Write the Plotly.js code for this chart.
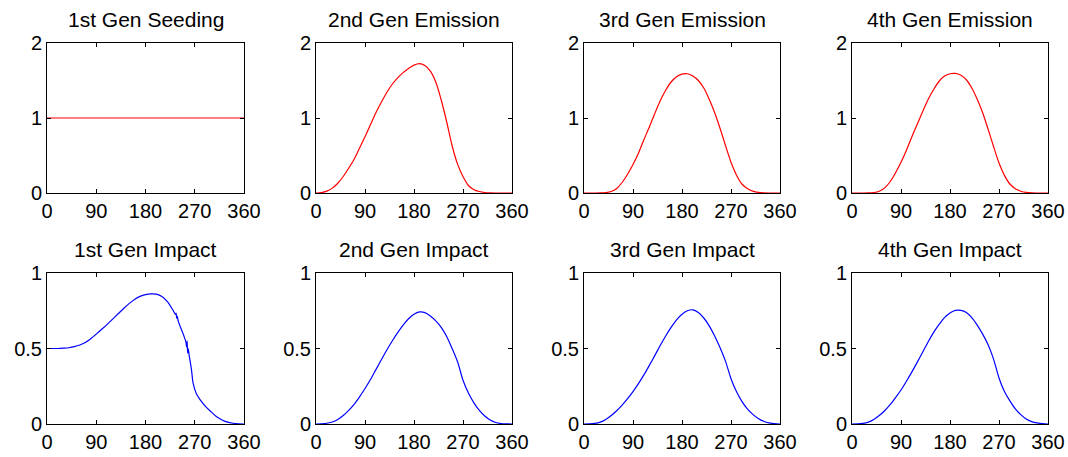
<!DOCTYPE html>
<html>
<head>
<meta charset="utf-8">
<script src="https://cdn.plot.ly/plotly-3.0.1.min.js"></script>
<style>html,body{margin:0;padding:0;background:#fff;}#chart{width:1068px;height:457px;}</style>
</head>
<body>
<div id="chart"></div>
<script>
// Angle grid (degrees)
const angles = [0,10,20,30,40,50,60,70,80,90,100,110,120,130,140,150,160,170,180,190,200,210,220,230,240,250,260,270,280,290,300,310,320,330,340,350,360];

// Panel titles
const titles = ["1st Gen Seeding","2nd Gen Emission","3rd Gen Emission","4th Gen Emission",
                "1st Gen Impact","2nd Gen Impact","3rd Gen Impact","4th Gen Impact"];

// Emission series (top row)
const seed1 = [1,1,1,1,1,1,1,1,1,1,1,1,1,1,1,1,1,1,1,1,1,1,1,1,1,1,1,1,1,1,1,1,1,1,1,1,1];
const emit2 = [0,0.005,0.025,0.065,0.13,0.22,0.33,0.45,0.6,0.75,0.91,1.07,1.21,1.34,1.45,1.535,1.605,1.66,1.705,1.725,1.7,1.625,1.48,1.24,0.95,0.63,0.385,0.22,0.1,0.044,0.02,0.007,0.002,0,0,0,0];
const emit3 = [0,0,0,0.001,0.005,0.02,0.06,0.14,0.25,0.38,0.53,0.71,0.88,1.06,1.23,1.37,1.48,1.55,1.585,1.59,1.56,1.5,1.40,1.25,1.07,0.86,0.63,0.41,0.24,0.12,0.06,0.025,0.008,0.002,0,0,0];
const emit4 = [0,0,0,0.001,0.006,0.024,0.068,0.15,0.27,0.41,0.57,0.75,0.92,1.09,1.25,1.38,1.49,1.56,1.59,1.595,1.57,1.51,1.40,1.25,1.07,0.85,0.62,0.40,0.235,0.12,0.058,0.024,0.008,0.002,0,0,0];

// Impact series (bottom row)
const impact1Angles = [0,10,20,30,40,50,60,70,80,90,100,110,120,130,140,150,160,170,180,190,200,210,220,230,235,236,237,238,240,250,254,255,256,257,258,260,264,267,273,280,290,300,310,320,330,340,350,360];
const impact1 = [0.5,0.5,0.5,0.502,0.505,0.512,0.523,0.54,0.565,0.595,0.627,0.66,0.695,0.73,0.765,0.797,0.825,0.845,0.857,0.862,0.86,0.845,0.81,0.755,0.725,0.735,0.7,0.715,0.68,0.585,0.54,0.51,0.55,0.47,0.5,0.45,0.36,0.27,0.2,0.16,0.115,0.08,0.048,0.027,0.012,0.005,0.001,0];
const impact2 = [0,0.001,0.005,0.013,0.03,0.056,0.09,0.13,0.18,0.235,0.295,0.36,0.425,0.49,0.55,0.605,0.655,0.697,0.727,0.742,0.738,0.715,0.683,0.64,0.58,0.5,0.412,0.29,0.205,0.14,0.09,0.053,0.026,0.01,0.003,0.001,0];
const impact3 = [0,0.001,0.004,0.012,0.03,0.056,0.088,0.125,0.168,0.215,0.267,0.325,0.388,0.453,0.52,0.583,0.64,0.69,0.727,0.75,0.756,0.738,0.702,0.65,0.583,0.505,0.415,0.3,0.215,0.15,0.1,0.064,0.037,0.018,0.007,0.002,0];
const impact4 = [0,0.001,0.004,0.012,0.03,0.056,0.088,0.128,0.175,0.225,0.283,0.345,0.41,0.477,0.545,0.607,0.66,0.705,0.735,0.752,0.752,0.738,0.705,0.655,0.595,0.525,0.43,0.305,0.215,0.153,0.1,0.062,0.033,0.016,0.007,0.002,0];

const xTicks = [0,90,180,270,360];
const topYTicks = [0,1,2];
const botYTicks = [0,0.5,1];
const botYText = ["0","0.5","1"];

const W = 1068, H = 457;
const colsPx = [[47,244],[316,512],[584,780],[852,1048]];
const rowsPx = [[43,193],[273,424]];

const series = [
  {x: angles, y: seed1, c: "#ff0000"},
  {x: angles, y: emit2, c: "#ff0000"},
  {x: angles, y: emit3, c: "#ff0000"},
  {x: angles, y: emit4, c: "#ff0000"},
  {x: impact1Angles, y: impact1, c: "#0000ff"},
  {x: angles, y: impact2, c: "#0000ff"},
  {x: angles, y: impact3, c: "#0000ff"},
  {x: angles, y: impact4, c: "#0000ff"}
];

const font = {family: "Liberation Sans, Arial, sans-serif", color: "#000"};
const data = [];
const layout = {
  width: W, height: H,
  margin: {l:0, r:0, t:0, b:0},
  paper_bgcolor: "#fff", plot_bgcolor: "#fff",
  showlegend: false,
  font: font,
  annotations: []
};

for (let i = 0; i < 8; i++) {
  const r = Math.floor(i / 4), c = i % 4;
  const n = i + 1;
  const xa = "xaxis" + (n === 1 ? "" : n);
  const ya = "yaxis" + (n === 1 ? "" : n);
  const xd = [colsPx[c][0] / W, colsPx[c][1] / W];
  const yd = [1 - rowsPx[r][1] / H, 1 - rowsPx[r][0] / H];
  data.push({
    type: "scatter", mode: "lines",
    x: series[i].x, y: series[i].y,
    xaxis: "x" + (n === 1 ? "" : n), yaxis: "y" + (n === 1 ? "" : n),
    line: {color: series[i].c, width: 1.2, shape: "spline", smoothing: 0.8},
    hoverinfo: "skip"
  });
  const common = {
    showline: true, linecolor: "#000", linewidth: 1, mirror: "ticks",
    ticks: "inside", ticklen: 4, tickcolor: "#000", tickwidth: 1,
    showgrid: false, zeroline: false, fixedrange: true,
    tickfont: {family: font.family, size: 20, color: "#000"}
  };
  layout[xa] = Object.assign({}, common, {
    domain: xd, range: [0, 360], tickmode: "array", tickvals: xTicks,
    anchor: "y" + (n === 1 ? "" : n)
  });
  layout[ya] = Object.assign({}, common, {
    domain: yd,
    range: r === 0 ? [0, 2] : [0, 1],
    tickmode: "array",
    tickvals: r === 0 ? topYTicks : botYTicks,
    ticktext: r === 0 ? topYTicks.map(String) : botYText,
    anchor: "x" + (n === 1 ? "" : n)
  });
  layout.annotations.push({
    text: titles[i], xref: "paper", yref: "paper",
    x: (xd[0] + xd[1]) / 2, y: yd[1], xanchor: "center", yanchor: "bottom",
    yshift: 10, showarrow: false,
    font: {family: font.family, size: 21, color: "#000"}
  });
}

Plotly.newPlot("chart", data, layout, {staticPlot: true, displayModeBar: false});
</script>
</body>
</html>
